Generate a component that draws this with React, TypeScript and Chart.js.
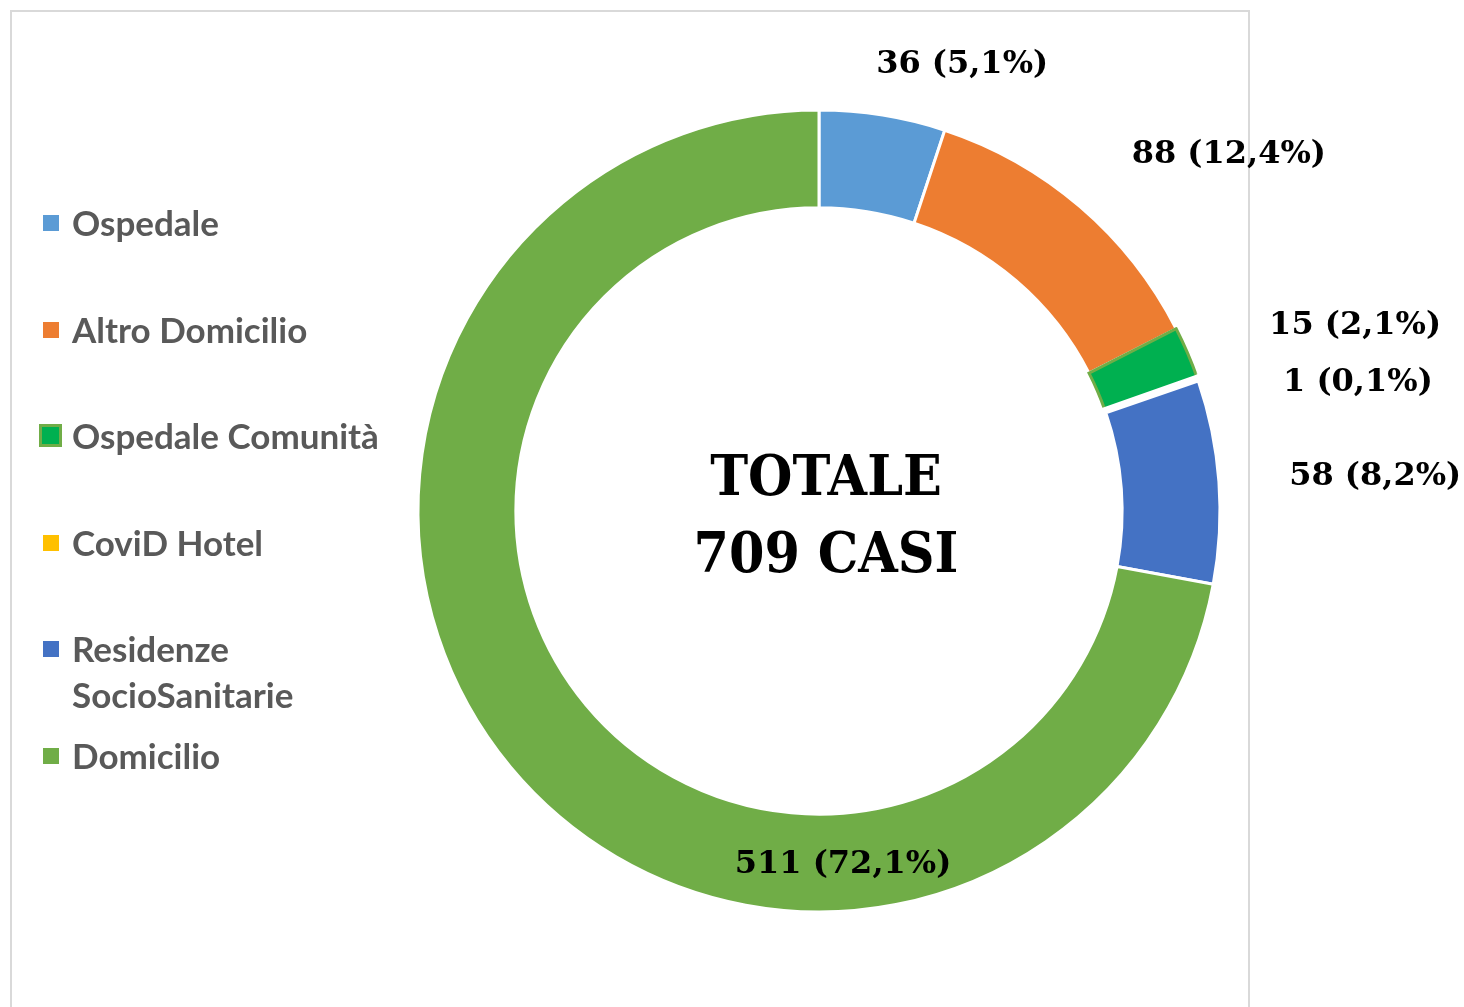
import React, { useEffect, useRef } from 'react';
import { Chart, registerables } from 'chart.js';

Chart.register(...registerables);

// ---- data ----
const categories = ['Ospedale', 'Altro Domicilio', 'Ospedale Comunità', 'CoviD Hotel', 'Residenze SocioSanitarie', 'Domicilio'];
const legendLines = [['Ospedale'], ['Altro Domicilio'], ['Ospedale Comunità'], ['CoviD Hotel'], ['Residenze', 'SocioSanitarie'], ['Domicilio']];
const cases = [36, 88, 15, 1, 58, 511];
const centerTitle = 'TOTALE';
const centerUnit = 'CASI';

// ---- styles ----
const fillColors = ['#5B9BD5', '#ED7D31', '#00B050', '#FFC000', '#4472C4', '#70AD47'];
const sliceBorders = ['#FFFFFF', '#FFFFFF', '#70AD47', '#FFFFFF', '#FFFFFF', '#FFFFFF'];
const sliceBorderWidths = [3, 3, 3, 6, 3, 3];
// label anchor offsets, in units of outer radius, from the chart centre
const labelOffsets = [
  [0.357, -1.113],
  [1.022, -0.888],
  [1.337, -0.462],
  [1.344, -0.32],
  [1.387, -0.085],
  [0.06, 0.882],
];
const legendRowY = [223, 330, 436, 543, 649, 756];

const total = cases.reduce((a, b) => a + b, 0);
const fmtLabel = (v: number) => `${v} (${((v / total) * 100).toFixed(1).replace('.', ',')}%)`;

const labelPlugin = {
  id: 'sliceLabels',
  afterDatasetsDraw(chart: any) {
    const ctx = chart.ctx;
    const meta = chart.getDatasetMeta(0);
    const data = chart.data.datasets[0].data as number[];
    ctx.save();
    ctx.fillStyle = '#000';
    ctx.textAlign = 'center';
    ctx.textBaseline = 'middle';
    ctx.font = 'bold 32px "DejaVu Serif"';
    meta.data.forEach((el: any, i: number) => {
      const R = el.outerRadius;
      const [ox, oy] = labelOffsets[i];
      ctx.fillText(fmtLabel(data[i]), el.x + ox * R, el.y + oy * R);
    });
    const el0 = meta.data[0];
    ctx.font = 'bold 56px "DejaVu Serif"';
    ctx.translate(el0.x + 7, el0.y);
    ctx.scale(0.91, 1);
    ctx.fillText(centerTitle, 0, -31);
    ctx.fillText(`${total} ${centerUnit}`, 0, 46);
    ctx.restore();
  },
};

export default function App() {
  const ref = useRef<HTMLCanvasElement | null>(null);

  useEffect(() => {
    if (!ref.current) return;
    const chart = new Chart(ref.current, {
      type: 'doughnut',
      data: {
        labels: categories,
        datasets: [
          {
            data: cases,
            backgroundColor: fillColors,
            borderColor: sliceBorders,
            borderWidth: sliceBorderWidths,
            hoverBorderWidth: 3,
            borderJoinStyle: 'miter',
          } as any,
        ],
      },
      options: {
        animation: false,
        responsive: false,
        cutout: '75.6%',
        layout: { padding: { left: 415, right: 241, top: 107, bottom: 92 } },
        plugins: {
          legend: { display: false },
          tooltip: { enabled: false },
        },
      },
      plugins: [labelPlugin],
    });
    return () => chart.destroy();
  }, []);

  return (
    <div style={{ position: 'absolute', left: 0, top: 0, width: 1464, height: 1007, background: '#fff', overflow: 'hidden' }}>
      <div
        style={{
          position: 'absolute',
          left: 10,
          top: 10,
          width: 1240,
          height: 1020,
          border: '2px solid #D9D9D9',
          boxSizing: 'border-box',
        }}
      />
      <canvas ref={ref} width={1464} height={1007} style={{ position: 'absolute', left: 0, top: 0, width: 1464, height: 1007 }} />
      {legendLines.map((lines, i) => {
        const special = sliceBorders[i] !== '#FFFFFF';
        const cy = legendRowY[i];
        return (
          <div key={categories[i]}>
            <div
              style={{
                position: 'absolute',
                left: special ? 39 : 43,
                top: special ? cy - 12 : cy - 8,
                width: special ? 23 : 16,
                height: special ? 23 : 16,
                background: fillColors[i],
                border: special ? `3px solid ${sliceBorders[i]}` : 'none',
                boxSizing: 'border-box',
              }}
            />
            <div
              style={{
                position: 'absolute',
                left: 72,
                top: cy - 24,
                fontFamily: 'Lato, sans-serif',
                fontWeight: 'bold',
                fontSize: 35,
                lineHeight: '46px',
                color: '#595959',
                whiteSpace: 'nowrap',
              }}
            >
              {lines.map((l) => (
                <div key={l}>{l}</div>
              ))}
            </div>
          </div>
        );
      })}
    </div>
  );
}
